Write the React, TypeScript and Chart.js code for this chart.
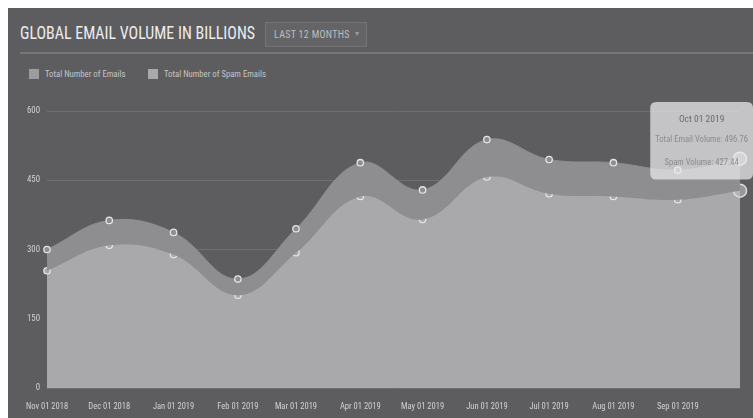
import React, { useEffect, useRef } from "react";
import { Chart, registerables, Tooltip } from "chart.js";

Chart.register(...registerables);

const categories = [
  "Nov 01 2018", "Dec 01 2018", "Jan 01 2019", "Feb 01 2019", "Mar 01 2019", "Apr 01 2019",
  "May 01 2019", "Jun 01 2019", "Jul 01 2019", "Aug 01 2019", "Sep 01 2019", "Oct 01 2019",
];
const categoryDates = [
  "2018-11-01", "2018-12-01", "2019-01-01", "2019-02-01", "2019-03-01", "2019-04-01",
  "2019-05-01", "2019-06-01", "2019-07-01", "2019-08-01", "2019-09-01", "2019-10-01",
];
const totalEmails = [300, 363, 337, 236, 345, 488, 429, 538, 495, 488, 472, 496.76];
const spamEmails = [254, 309, 289, 201, 293, 415, 365, 457, 421, 415, 408, 427.44];
const seriesNames = ["Total Number of Emails", "Total Number of Spam Emails"];
const tooltipNames = ["Total Email Volume", "Spam Volume"];
const yTicks = [0, 150, 300, 450, 600];

const NARROW = '"Liberation Sans Narrow", "Roboto Condensed", "Arial Narrow", sans-serif';
const BG = "#5d5d5f";
const TOTAL_FILL = "#8e8e91";
const SPAM_FILL = "#a9a9ac";

(Tooltip as any).positioners.topLeftOfPoint = function (items: any[]) {
  if (!items.length) return false;
  const el = items[0].element;
  const area = this.chart.chartArea;
  return { x: el.x - 66, y: area.top - 9, xAlign: "left", yAlign: "top" };
};

export default function App() {
  const ref = useRef<HTMLCanvasElement>(null);
  const titleRef = useRef<HTMLDivElement>(null);

  useEffect(() => {
    const t = titleRef.current;
    if (t) {
      const w = t.scrollWidth;
      if (w > 0) t.style.transform = `scaleX(${235 / w})`;
    }
    const day0 = Date.parse(categoryDates[0]);
    const xs = categoryDates.map((d) => Math.round((Date.parse(d) - day0) / 86400000));
    const pointStyle = (fill: string) => ({
      pointRadius: 3.2,
      pointBorderWidth: 1.3,
      pointBorderColor: "#e4e4e6",
      pointBackgroundColor: fill,
      pointHoverRadius: 6.5,
      pointHoverBorderWidth: 1.5,
      pointHoverBorderColor: "#dcdcde",
      pointHoverBackgroundColor: "rgba(190,190,192,0.6)",
    });
    const chart = new Chart(ref.current!, {
      type: "line",
      data: {
        datasets: [
          {
            label: seriesNames[0],
            data: totalEmails.map((v, i) => ({ x: xs[i], y: v })),
            fill: "+1",
            backgroundColor: TOTAL_FILL,
            borderColor: TOTAL_FILL,
            borderWidth: 1,
            tension: 0.4,
            clip: false,
            ...pointStyle(TOTAL_FILL),
          },
          {
            label: seriesNames[1],
            data: spamEmails.map((v, i) => ({ x: xs[i], y: v })),
            fill: "origin",
            backgroundColor: SPAM_FILL,
            borderColor: SPAM_FILL,
            borderWidth: 1,
            tension: 0.4,
            clip: false,
            ...pointStyle(SPAM_FILL),
          },
        ],
      },
      options: {
        animation: false,
        responsive: true,
        maintainAspectRatio: false,
        layout: { padding: { top: 21, right: 13, left: 0, bottom: 0 } },
        interaction: { mode: "index", intersect: false },
        plugins: {
          legend: { display: false },
          tooltip: {
            position: "topLeftOfPoint" as any,
            backgroundColor: "rgba(236,236,238,0.72)",
            titleColor: "#6a6a6c",
            bodyColor: "#8c8c8e",
            titleFont: { family: NARROW, size: 9.5, weight: "normal" },
            bodyFont: { family: NARROW, size: 8.6 },
            titleAlign: "center",
            bodyAlign: "center",
            titleMarginBottom: 9,
            bodySpacing: 12.5,
            padding: { top: 12, bottom: 12, left: 5, right: 5 },
            cornerRadius: 6,
            caretSize: 0,
            caretPadding: 0,
            displayColors: false,
            callbacks: {
              title: (items: any[]) => categories[items[0].dataIndex],
              label: (item: any) =>
                `${tooltipNames[item.datasetIndex]}: ${Number(item.parsed.y).toFixed(2)}`,
            },
          },
        },
        scales: {
          x: {
            type: "linear",
            min: xs[0],
            max: xs[xs.length - 1],
            afterBuildTicks: (s: any) => {
              s.ticks = xs.map((v) => ({ value: v }));
            },
            afterFit: (s: any) => {
              s.height = 30;
            },
            grid: { display: false },
            border: { display: false },
            ticks: {
              autoSkip: false,
              maxRotation: 0,
              padding: 6,
              color: "#d2d2d4",
              font: { family: NARROW, size: 8.5 },
              callback: (_v: any, i: number) => (i < categories.length - 1 ? categories[i] : ""),
            },
          },
          y: {
            min: yTicks[0],
            max: yTicks[yTicks.length - 1],
            afterBuildTicks: (s: any) => {
              s.ticks = yTicks.map((v) => ({ value: v }));
            },
            afterFit: (s: any) => {
              s.width = 39;
            },
            grid: { color: "#707072", drawTicks: false, lineWidth: 1 },
            border: { display: false },
            ticks: {
              padding: 7,
              color: "#d2d2d4",
              font: { family: NARROW, size: 8.8 },
            },
          },
        },
      },
    });

    const act = [
      { datasetIndex: 0, index: categories.length - 1 },
      { datasetIndex: 1, index: categories.length - 1 },
    ];
    const el = chart.getDatasetMeta(0).data[categories.length - 1] as any;
    chart.setActiveElements(act);
    chart.tooltip!.setActiveElements(act, { x: el.x, y: el.y });
    chart.draw();

    return () => chart.destroy();
  }, []);

  return (
    <div
      style={{
        position: "fixed",
        left: 8,
        top: 8,
        width: 745,
        height: 410,
        background: BG,
        overflow: "hidden",
        fontFamily: NARROW,
      }}
    >
      <div
        ref={titleRef}
        style={{
          position: "absolute",
          left: 12,
          top: 14,
          fontSize: 19,
          lineHeight: "22px",
          color: "#ececee",
          whiteSpace: "nowrap",
          transformOrigin: "0 0",
        }}
      >
        GLOBAL EMAIL VOLUME IN BILLIONS
      </div>
      <div
        style={{
          position: "absolute",
          left: 257,
          top: 14,
          width: 100,
          height: 23,
          border: "1px solid #747476",
          background: "#646466",
          color: "#bdbdbf",
          fontSize: 10,
          lineHeight: "23px",
          boxSizing: "content-box",
        }}
      >
        <span style={{ position: "absolute", left: 8, letterSpacing: 0.3 }}>LAST 12 MONTHS</span>
        <span style={{ position: "absolute", left: 89, fontSize: 8, top: -1, color: "#9a9a9c" }}>▾</span>
      </div>
      <div
        style={{
          position: "absolute",
          left: 12,
          top: 44,
          right: 0,
          height: 2,
          background: "#767678",
        }}
      />
      {seriesNames.map((name, i) => (
        <div
          key={name}
          style={{
            position: "absolute",
            left: i === 0 ? 21 : 140,
            top: 61,
            display: "flex",
            alignItems: "center",
            color: "#c4c4c6",
            fontSize: 8.7,
            whiteSpace: "nowrap",
          }}
        >
          <span
            style={{
              display: "inline-block",
              width: 10,
              height: 10,
              background: i === 0 ? "#9c9c9f" : "#a9a9ac",
              marginRight: 6,
            }}
          />
          {name}
        </div>
      ))}
      <div style={{ position: "absolute", left: 0, top: 82, width: 745, height: 328 }}>
        <canvas ref={ref} />
      </div>
    </div>
  );
}
